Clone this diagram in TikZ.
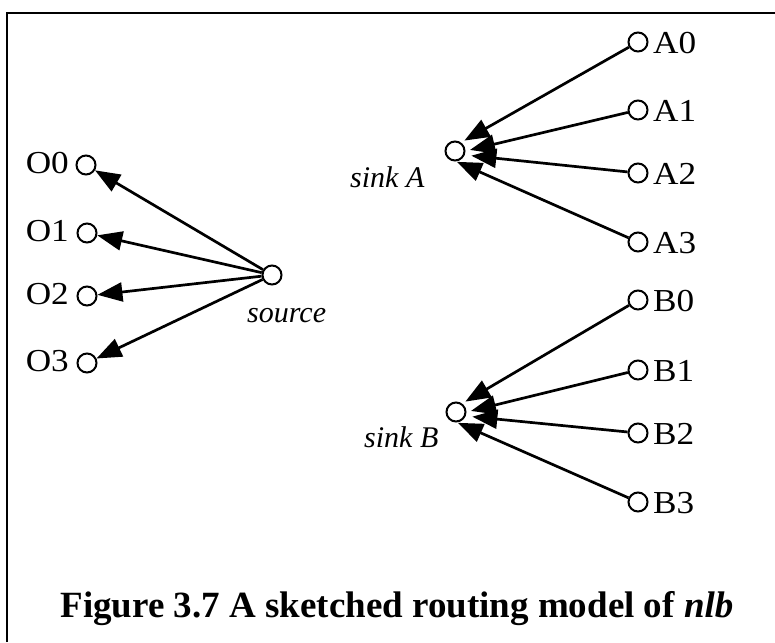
\documentclass[tikz,border=0pt]{standalone}
\usepackage{fontspec}
\setmainfont{Liberation Serif}
\newfontfamily\pinfont[FakeStretch=1.1]{Liberation Serif}
\usetikzlibrary{arrows.meta}
\begin{document}
\begin{tikzpicture}[x=1pt,y=-1pt,
  pin/.style={circle,draw,line width=2pt,minimum size=19pt,inner sep=0pt},
  lbl/.style={inner sep=0pt,font=\pinfont\fontsize{32}{34}\selectfont},
  ilbl/.style={inner sep=0pt,font=\fontsize{30}{34}\selectfont\itshape},
  link/.style={line width=2.7pt,-{Triangle[length=25pt,width=19pt]}},
]
\useasboundingbox (0,0) rectangle (775,642);
% open frame: left and top edges
\draw[line width=2.5pt] (7,642) -- (7,13) -- (775,13);

% outputs on the left
\node[pin] (O0) at (86,165) {};
\node[pin] (O1) at (87,233) {};
\node[pin] (O2) at (87,296) {};
\node[pin] (O3) at (87,363) {};
\node[lbl,anchor=base east] (O0t) at (69,173) {O0};
\node[lbl,anchor=base east] (O1t) at (69,241) {O1};
\node[lbl,anchor=base east] (O2t) at (69,304) {O2};
\node[lbl,anchor=base east] (O3t) at (69,371) {O3};

% source
\node[pin] (src) at (272,275) {};
\node[ilbl,anchor=base west] (srct) at (247,322) {source};

% sinks
\node[pin] (sinkA) at (455,151) {};
\node[pin] (sinkB) at (456,412) {};
\node[ilbl,anchor=base west] (sinkAt) at (350,187) {sink A};
\node[ilbl,anchor=base west] (sinkBt) at (364,447) {sink B};

% inputs on the right
\foreach \n/\y in {A0/42,A1/110,A2/173,A3/242,B0/300,B1/370,B2/433,B3/502}{
  \node[pin] (\n) at (638,\y) {};
  \node[lbl,anchor=base west] (\n t) at (653,\y+11) {\n};
}

% connectors
\foreach \o in {O0,O1,O2,O3}{ \draw[link] (src) -- (\o); }
% converging arrows stop around each sink, fanned out
\foreach \s/\k in {sinkA/A,sinkB/B}{
  \draw[link] (\k0) -- ([shift={(48:14pt)}]\s.center);
  \draw[link] (\k1) -- ([shift={(4:15pt)}]\s.center);
  \draw[link] (\k2) -- ([shift={(-16:17pt)}]\s.center);
  \draw[link] (\k3) -- ([shift={(-80:11pt)}]\s.center);
}

% caption
\node[anchor=base,inner sep=0pt,font=\bfseries\fontsize{37}{44}\selectfont] (cap) at (397,617)
  {Figure 3.7 A sketched routing model of \textit{nlb}};
\end{tikzpicture}
\end{document}
